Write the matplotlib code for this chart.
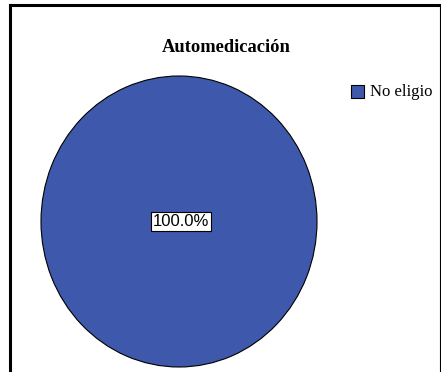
import matplotlib.pyplot as plt
from matplotlib.patches import Rectangle
from matplotlib.lines import Line2D

# datos del grafico
categorias = ["No eligio"]
valores = [100.0]
colores = ["#3E58AB"]
titulo = "Automedicación"

W, H = 441, 372
fig = plt.figure(figsize=(W / 100, H / 100), dpi=100)

# marco exterior (sin borde inferior visible)
def px(x, y):
    return x / W, 1 - y / H

for (x0, y0), (x1, y1), lw in [((10, 5), (440, 5), 2.2), ((10, 5), (10, 372), 2.2),
                               ((440, 5), (440, 372), 0.8)]:
    a, b = px(x0, y0)
    c, d = px(x1, y1)
    fig.add_artist(Line2D([a, c], [b, d], color="black", lw=lw))

# torta
ax = fig.add_axes([41 / W, 1 - 367 / H, 276 / W, 291 / H])
ax.pie(valores, colors=colores, startangle=90, counterclock=False,
       wedgeprops=dict(edgecolor="black", linewidth=0.8))
ax.set_aspect("auto")
ax.set_xlim(-1.0, 1.0)
ax.set_ylim(-1.0, 1.0)
ax.axis("off")

# etiqueta del porcentaje
ax.text(0.015, 0.0, f"{valores[0]:.1f}%", ha="center", va="center",
        fontsize=12, family="Liberation Sans",
        bbox=dict(boxstyle="square,pad=0.12", fc="white", ec="black", lw=0.8))

# titulo
tx, ty = px(226, 47)
fig.text(tx, ty, titulo, ha="center", va="center", fontsize=13.3,
         fontweight="bold", family="Liberation Serif")

# leyenda
sx, sy = px(351, 98)
fig.add_artist(Rectangle((sx, sy), 13 / W, 13 / H, transform=fig.transFigure,
                         fc=colores[0], ec="black", lw=0.8))
lx, ly = px(370, 92)
fig.text(lx, ly, categorias[0], ha="left", va="center", fontsize=12,
         family="Liberation Serif")

fig.savefig("out.png", dpi=100)
